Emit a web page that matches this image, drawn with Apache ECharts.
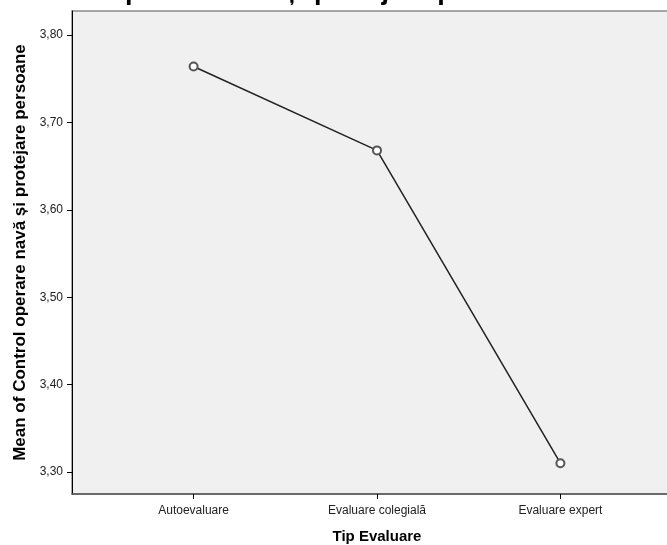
<!DOCTYPE html>
<html><head><meta charset="utf-8">
<script src="https://cdn.jsdelivr.net/npm/echarts@6/dist/echarts.min.js"></script>
<style>html,body{margin:0;padding:0;background:#fff;overflow:hidden}#c{width:667px;height:545px}</style>
</head><body><div id="c"></div>
<script>
const categories = ['Autoevaluare', 'Evaluare colegială', 'Evaluare expert'];
const means = [3.764, 3.668, 3.310];
const yTicks = [3.3, 3.4, 3.5, 3.6, 3.7, 3.8];
const titleText = 'Control operare navă și protejare persoane';
const yName = 'Mean of Control operare navă și protejare persoane';
const xName = 'Tip Evaluare';

const chart = echarts.init(document.getElementById('c'), null, {renderer: 'canvas'});
chart.setOption({
  animation: false,
  backgroundColor: '#fff',
  title: {
    text: titleText, left: 0, top: -27,
    textStyle: {fontFamily: 'Liberation Sans', fontWeight: 'bold', fontSize: 27, color: '#000'}
  },
  grid: {left: 72, right: -15, top: 11, bottom: 51, outerBoundsMode: 'none', containLabel: false,
    show: true, backgroundColor: '#f0f0f0', borderColor: '#8c8c8c', borderWidth: 1.5},
  xAxis: {
    type: 'value', min: -0.663, max: 2.663,
    name: xName, nameLocation: 'middle', nameGap: 35,
    nameTextStyle: {fontFamily: 'Liberation Sans', fontWeight: 'bold', fontSize: 15, color: '#000'},
    axisLine: {show: true, onZero: false, lineStyle: {color: '#555', width: 1.5}},
    axisTick: {show: true, length: 5, lineStyle: {color: '#000'}, customValues: [0, 1, 2]},
    axisLabel: {customValues: [0, 1, 2], formatter: v => categories[Math.round(v)], margin: 11,
      fontFamily: 'Liberation Sans', fontSize: 12, color: '#222'},
    splitLine: {show: false}
  },
  yAxis: {
    type: 'value', min: 3.2748, max: 3.8275,
    name: yName, nameLocation: 'middle', nameGap: 41, nameRotate: 90,
    nameTextStyle: {fontFamily: 'Liberation Sans', fontWeight: 'bold', fontSize: 17, color: '#000'},
    axisLine: {show: true, onZero: false, lineStyle: {color: '#000', width: 1}},
    axisTick: {show: true, length: 5, lineStyle: {color: '#000'}, customValues: yTicks},
    axisLabel: {customValues: yTicks, formatter: v => v.toFixed(2).replace('.', ','), margin: 9,
      fontFamily: 'Liberation Sans', fontSize: 12, color: '#222'},
    splitLine: {show: false}
  },
  series: [{
    type: 'line',
    data: means.map((m, i) => [i, m]),
    symbol: 'emptyCircle', symbolSize: 8,
    lineStyle: {color: '#222', width: 1.5},
    itemStyle: {color: '#555', borderColor: '#555', borderWidth: 1.2}
  }]
});
</script></body></html>
